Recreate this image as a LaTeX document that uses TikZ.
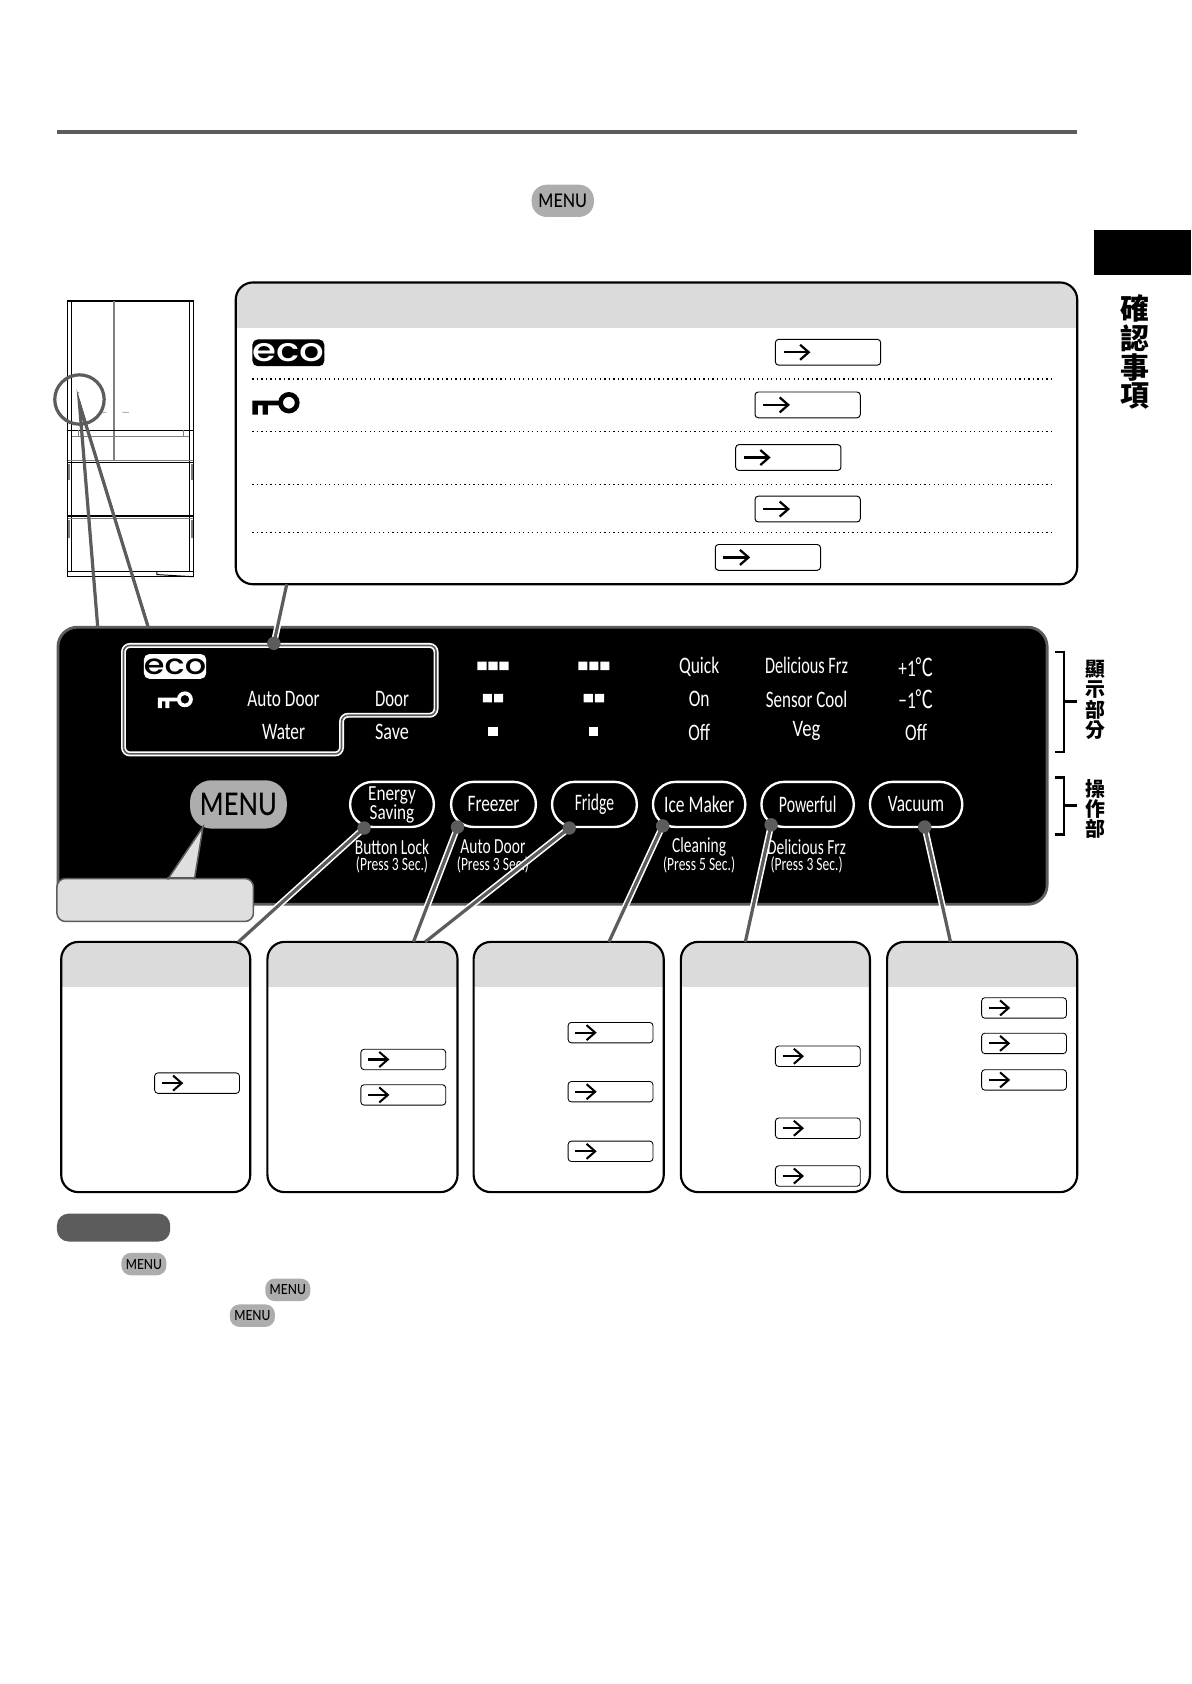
\documentclass[tikz,border=0pt]{standalone}
\usepackage{graphicx}
\usepackage{fontspec}
\setmainfont{Carlito}
\newfontfamily\cjk{Noto Sans CJK TC}
\newfontfamily\menuf{Lato Medium}
\newfontfamily\ecof{Poppins Medium}
\usetikzlibrary{arrows.meta}
\definecolor{lead}{gray}{0.36}
\definecolor{head}{gray}{0.86}
\definecolor{pillc}{gray}{0.68}
\newcommand{\fs}[1]{\fontsize{#1}{#1}\selectfont}
\newcommand{\cond}[2][.73]{\scalebox{#1}[1]{#2}}
\newcommand{\mtext}[2]{\scalebox{#2}[1]{\menuf\fs{#1}MENU}}
\newcommand{\ecotext}[2]{\scalebox{1.2}[1]{\fontsize{#1}{#1}\ecof\color{#2}eco}}
\newcommand{\keyicon}[4]{\begin{scope}[shift={(#1,#2)},scale=#3]
  \fill[#4,even odd rule] (34,11) circle (10) (34,11) circle (5.5);
  \fill[#4] (0,9) rectangle (26,13.5) (0,9) rectangle (5,22) (9.5,9) rectangle (14.5,22);
\end{scope}}
\tikzset{
  x=1pt,y=-1pt,
  infobox/.style={draw=black,line width=2pt,rounded corners=16pt,inner sep=0pt,outer sep=0pt,
    path picture={\fill[head,sharp corners] (path picture bounding box.north west) rectangle ([yshift=-#1]path picture bounding box.north east);}},
  abig/.style={draw=black,line width=.9pt,rounded corners=3pt,minimum width=98pt,minimum height=24pt,inner sep=0pt},
  asmall/.style={draw=black,line width=.8pt,rounded corners=3pt,minimum width=79pt,minimum height=19pt,inner sep=0pt},
  arr/.style={line width=2.1pt,-{Straight Barb[length=8pt,width=14pt]}},
  menupill/.style={fill=pillc,rounded corners=#1,inner sep=0pt,text=black},
  btn/.style={draw=white,fill=black,line width=2.2pt,rounded corners=21pt,minimum height=42pt,inner sep=0pt,text=white},
  wt/.style={text=white,inner sep=0pt},
  dot/.style={circle,fill=lead,minimum size=12.5pt,inner sep=0pt},
  leadc/.style={draw=lead,line width=3pt},
  casing/.style={draw=white,line width=6pt},
  fr/.style={draw=black,line width=.9pt},
  frg/.style={draw=gray,line width=.9pt},
}
\begin{document}
\begin{tikzpicture}
\useasboundingbox (0,0) rectangle (1109,1568);
\fill[white] (0,0) rectangle (1109,1568);
% header rule
\draw[draw=lead,line width=3.4pt] (53,123) -- (1003,123);
\node[menupill=14pt,minimum width=58pt,minimum height=30pt] (topmenu) at (524,187) {\mtext{17.5}{.86}};
% tab
\fill[black] (1018.5,214) rectangle (1109,256);
\foreach \c/\y in {確/287,認/315,事/342,項/369}
  \node[inner sep=0pt] (tab\y) at (1057,\y) {\cjk\bfseries\fs{27}\c};
% fridge
\draw[fr] (63,280) rectangle (180,537);
\draw[fr,line width=1.4pt] (63,280.5) -- (180,280.5);
\draw[fr] (67,280) -- (67,532) (176,280) -- (176,532);
\draw[frg,line width=1.4pt] (106,280) -- (106,429);
\draw[fr] (63,400.5) -- (180,400.5);
\draw[frg] (67,406) -- (176,406) (73,400.5) -- (73,406) (171,400.5) -- (171,406);
\draw[frg,line width=1.4pt] (63,429) -- (180,429);
\draw[fr] (63,431) -- (180,431);
\draw[fr,line width=1.2pt] (63,480.5) -- (180,480.5);
\draw[frg] (63,483) -- (180,483);
\draw[fr] (63,532) -- (180,532);
\draw[frg,line width=2pt] (64,432) -- (64,447) (179,432) -- (179,447) (64,484) -- (64,501) (179,484) -- (179,501);
\draw[fr] (146,532) -- (146,535) -- (180,537);
\fill[gray!60] (72,365) rectangle (74,366.5) (95,383.5) rectangle (99,384.5) (114,383.5) rectangle (120,384.5);
\node[circle,draw=lead,line width=3pt,minimum size=46pt,inner sep=0pt] (zoomc) at (74,372) {};
% top info panel
\node[infobox=42pt,minimum width=783.5pt,minimum height=281pt] (panel) at (611.25,403.5) {};
\node[fill=black,rounded corners=5pt,minimum width=67pt,minimum height=25pt,inner sep=0pt] (eco1) at (268.5,328.5) {\raisebox{-.5pt}{\ecotext{30}{white}}};
\keyicon{235}{364}{1}{black}
\foreach \y in {353,402,451,496} \draw[line width=1.2pt,dash pattern=on 1.2pt off 3pt] (235,\y) -- (979,\y);
\foreach \n/\x/\y in {1/771/328,2/752/377,3/734/426,4/752/474,5/715/519} {
  \node[abig] (ab\n) at (\x,\y) {};
  \draw[arr] ([xshift=8pt]ab\n.west) -- ++(25,0);
}
% control panel
\node[fill=black,draw=lead,line width=2.6pt,rounded corners=18pt,minimum width=921pt,minimum height=258pt,inner sep=0pt] (ctrl) at (514.5,713) {};
\coordinate (ctrlA) at (91,584);
\coordinate (ctrlB) at (138,584);
\coordinate (apex) at (74,376);
\draw[leadc] (ctrlA) -- (apex) -- (ctrlB);
% outlined display group
\draw[white,line width=4.6pt,rounded corners=6pt] (115,601) -- (406,601) -- (406,666) -- (318,666) -- (318,702) -- (115,702) -- cycle;
\draw[lead,line width=1.5pt,rounded corners=6pt] (115,601) -- (406,601) -- (406,666) -- (318,666) -- (318,702) -- (115,702) -- cycle;
\node[fill=white,rounded corners=5pt,minimum width=58pt,minimum height=23pt,inner sep=0pt] (eco2) at (163,620.5) {\raisebox{-.5pt}{\ecotext{26}{black}}};
\keyicon{147}{643}{.74}{white}
\foreach \t/\x/\y/\n/\s in {Auto Door/264/651/a/.73,Door/365/651/b/.71,Water/264/681.5/c/.73,Save/365/681.5/d/.77,Quick/651/620.5/e/.74,On/651/651/f/.74,Off/651/681.5/g/.74,Delicious Frz/751/620/h/.69,Sensor Cool/751/651/i/.72,Veg/751/680.5/j/.79,Off/853/681.5/k/.74}
  \node[wt] (disp\n) at (\x,\y) {\fs{22}\cond[\s]{\t}};
\node[wt] (tplus) at (853,621) {\fs{22}\cond{+1{\cjk\fs{23}℃}}};
\node[wt] (tminus) at (853,651) {\fs{22}\cond{−1{\cjk\fs{23}℃}}};
% level squares
\foreach \x in {459,553} {
  \fill[white] (\x-14.5,616) rectangle +(8.5,8) (\x-4.25,616) rectangle +(8.5,8) (\x+6,616) rectangle +(8.5,8);
  \fill[white] (\x-9.5,646) rectangle +(8.5,8) (\x+1,646) rectangle +(8.5,8);
  \fill[white] (\x-4.25,677) rectangle +(8.5,8);
}
% menu button and callout
\node[menupill=20pt,minimum width=90pt,minimum height=45pt] (menu) at (222,749) {\mtext{29}{.82}};
\node[draw=lead,fill=head!90!white,line width=1.4pt,rounded corners=8pt,minimum width=183pt,minimum height=40pt,inner sep=0pt] (call) at (144.5,838) {};
\coordinate (callL) at (156,819);
\coordinate (callR) at (181,819);
\coordinate (callT) at (189,770);
\fill[head!90!white] (callL) -- (callT) -- (callR) -- ([yshift=2pt]callR) -- ([yshift=2pt]callL) -- cycle;
\draw[lead,line width=1.4pt] (callL) -- (callT) -- (callR);
% buttons
\node[btn,minimum width=78pt] (bEnergy) at (365,749) {};
\node[wt] (tEn) at (365,741) {\fs{20}\cond[.8]{Energy}};
\node[wt] (tSa) at (365,757.5) {\fs{20}\cond[.8]{Saving}};
\node[btn,minimum width=79pt] (bFreezer) at (459.5,749) {\fs{22}\cond{Freezer}};
\node[btn,minimum width=79pt] (bFridge) at (553.5,749) {\raisebox{-2pt}{\fs{22}\cond[.66]{Fridge}}};
\node[btn,minimum width=86pt] (bIce) at (651,749) {\fs{22}\cond[.74]{Ice Maker}};
\node[btn,minimum width=86pt] (bPower) at (752,749) {\fs{22}\cond[.67]{Powerful}};
\node[btn,minimum width=86pt] (bVac) at (853,749) {\fs{22}\cond{Vacuum}};
\foreach \a/\b/\x/\n in {Button Lock/(Press 3 Sec.)/365/a,Auto Door/(Press 3 Sec.)/459/b,Cleaning/(Press 5 Sec.)/651/c,Delicious Frz/(Press 3 Sec.)/751/d} {
  \node[wt] (sub\n) at (\x,788.5) {\fs{20}\cond[.72]{\a}};
  \node[wt] (sec\n) at (\x,805) {\fs{17.5}\cond[.72]{\b}};
}
% bottom boxes
\node[infobox=42pt,minimum width=176pt,minimum height=233pt] (b1) at (145,993.5) {};
\node[infobox=42pt,minimum width=177pt,minimum height=233pt] (b2) at (337.5,993.5) {};
\node[infobox=42pt,minimum width=177pt,minimum height=233pt] (b3) at (529.5,993.5) {};
\node[infobox=42pt,minimum width=176pt,minimum height=233pt] (b4) at (722,993.5) {};
\node[infobox=42pt,minimum width=177pt,minimum height=233pt] (b5) at (914.5,993.5) {};
\foreach \n/\x/\y in {1/183.5/1008.5,2/375.5/986.5,3/375.5/1019.5,4/568.5/961.5,5/568.5/1016.5,6/568.5/1072,7/761.5/983.5,8/761.5/1050.5,9/761.5/1095,10/953.5/938.5,11/953.5/971.5,12/953.5/1005.5} {
  \node[asmall] (as\n) at (\x,\y) {};
  \draw[arr,line width=1.9pt] ([xshift=7pt]as\n.west) -- ++(20,0);
}
% connectors
\coordinate (dEco) at (255,599);
\coordinate (dEn) at (339,771);
\coordinate (dFz) at (426,770);
\coordinate (dFr) at (530,771);
\coordinate (dIce) at (617,769);
\coordinate (dPow) at (718,768);
\coordinate (dVac) at (861,770);
\coordinate (pEco) at (267,544);
\coordinate (e1) at (222,877);
\coordinate (e2a) at (385,877);
\coordinate (e2b) at (396,877);
\coordinate (e3) at (567,877);
\coordinate (e4) at (694,877);
\coordinate (e5) at (885,877);
\begin{scope}
\clip (ctrl.north west) rectangle (ctrl.south east);
\foreach \a/\b in {dEco/pEco,dEn/e1,dFz/e2a,dFr/e2b,dIce/e3,dPow/e4,dVac/e5}
  \draw[casing] (\a) -- (\b);
\end{scope}
\foreach \a/\b in {dEco/pEco,dEn/e1,dFz/e2a,dFr/e2b,dIce/e3,dPow/e4,dVac/e5}
  \draw[leadc] (\a) -- (\b);
\foreach \a in {dEco,dEn,dFz,dFr,dIce,dPow,dVac}
  \node[dot] (n\a) at (\a) {};
% notes
\node[fill=lead,rounded corners=11pt,minimum width=105.5pt,minimum height=26pt,inner sep=0pt] (note) at (105.75,1143) {};
\node[menupill=9pt,minimum width=42pt,minimum height=21pt] (m1) at (134,1177) {\mtext{13}{.86}};
\node[menupill=9pt,minimum width=42pt,minimum height=21pt] (m2) at (268,1201) {\mtext{13}{.86}};
\node[menupill=9pt,minimum width=42pt,minimum height=21pt] (m3) at (235,1225) {\mtext{13}{.86}};
% brackets
\draw[black,line width=2.4pt] (982,607) -- (990.5,607) -- (990.5,700) -- (982,700) (990.5,653) -- (1003,653);
\draw[black,line width=2.4pt] (982,724) -- (990.5,724) -- (990.5,777) -- (982,777) (990.5,750) -- (1003,750);
\foreach \c/\y in {顯/623,示/642,部/661,分/680,操/735,作/753.5,部/772}
  \node[inner sep=0pt] (lab\y) at (1020,\y) {\cjk\bfseries\fs{18.5}\c};
\end{tikzpicture}
\end{document}
